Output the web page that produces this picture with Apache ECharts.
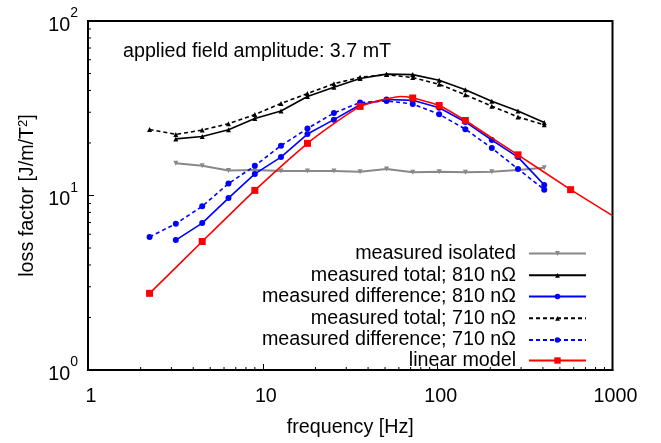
<!DOCTYPE html>
<html>
<head>
<meta charset="utf-8">
<script src="https://cdn.jsdelivr.net/npm/echarts@6/dist/echarts.min.js"></script>
<style>html,body{margin:0;padding:0;background:#fff}#c{width:661px;height:443px}</style>
</head>
<body>
<div id="c"></div>
<script>
// ---- data ----
const fIso = [3.18, 4.5, 6.36, 9, 12.7, 18, 25.5, 36, 51, 72, 102, 144, 204, 288, 407];
const isolated = [15.3, 14.8, 13.9, 14.0, 13.8, 13.8, 13.8, 13.7, 14.2, 13.6, 13.7, 13.6, 13.7, 14.0, 14.4];
const f810 = [3.18, 4.5, 6.36, 9, 12.7, 18, 25.5, 36, 51, 72, 102, 144, 204, 288, 407];
const total810 = [21.1, 21.8, 23.8, 27.6, 30.5, 36.9, 41.7, 46.8, 49.6, 49.3, 45.8, 40.4, 34.7, 30.5, 26.2];
const diff810 = [5.55, 6.95, 9.66, 13.3, 16.6, 22.5, 27.2, 33.1, 35.5, 35.1, 31.8, 26.4, 20.8, 16.6, 11.5];
const f710 = [2.25, 3.18, 4.5, 6.36, 9, 12.7, 18, 25.5, 36, 51, 72, 102, 144, 204, 288, 407];
const total710 = [23.9, 22.4, 23.7, 25.8, 29.1, 33.7, 38.4, 43.7, 47.6, 49.3, 47.4, 43.4, 37.8, 32.5, 28.2, 25.4];
const diff710 = [5.79, 6.89, 8.67, 11.7, 14.8, 19.3, 24.2, 29.7, 34.1, 34.8, 33.5, 29.2, 24.0, 18.7, 14.2, 10.8];
const fModel = [2.25, 4.5, 9, 18, 25.5, 36, 45, 51, 61, 72, 102, 144, 204, 288, 576, 1000];
const model = [2.75, 5.45, 10.7, 19.9, 25.8, 32.4, 34.8, 35.8, 36.9, 36.2, 32.8, 26.9, 21.4, 17.1, 10.8, 7.67];
const modelMarked = [1, 1, 1, 1, 0, 1, 0, 0, 0, 1, 1, 1, 0, 1, 1, 0];
const xMinorTicks = [2,3,4,5,6,7,8,9,20,30,40,50,60,70,80,90,200,300,400,500,600,700,800,900];
const yMinorTicks = [2,3,4,5,6,7,8,9,20,30,40,50,60,70,80,90];
const names = ['measured isolated', 'measured total; 810 nΩ', 'measured difference; 810 nΩ',
               'measured total; 710 nΩ', 'measured difference; 710 nΩ', 'linear model'];
const annotation = 'applied field amplitude: 3.7 mT';

const FONT = '"Liberation Sans", Arial, Helvetica, sans-serif';
const FS = 19.7;
const pairs = (xs, ys) => xs.map((x, i) => [x, ys[i]]);

const chart = echarts.init(document.getElementById('c'), null, {renderer: 'canvas'});

function minorTickSeries(vals, axis) {
  return {
    type: 'custom', silent: true, clip: false, z: 10,
    data: vals.map(v => axis === 'x' ? [v, 1] : [1, v]),
    renderItem: function (params, api) {
      const p = api.coord([api.value(0), api.value(1)]);
      const shape = axis === 'x'
        ? {x1: p[0], y1: p[1], x2: p[0], y2: p[1] - 3}
        : {x1: p[0], y1: p[1], x2: p[0] + 3, y2: p[1]};
      return {type: 'line', shape: shape, style: {stroke: '#000', lineWidth: 1}};
    }
  };
}

const legendRows = [254.5, 276.3, 297.5, 319.3, 341, 361.5];
const legendSymH = [6, 6, 7, 6, 7, 8];
const legends = names.map((n, i) => ({
  data: [n], orient: 'horizontal', align: 'right', right: 74,
  top: legendRows[i] - 11, padding: 0,
  itemWidth: 57, itemHeight: legendSymH[i],
  textStyle: {fontSize: FS, color: '#000', fontFamily: FONT, padding: [0, 8, 0, 0]},
  selectedMode: false
}));

const option = {
  animation: false,
  textStyle: {fontFamily: FONT},
  title: {
    text: annotation, left: 118, top: 37,
    textStyle: {fontSize: FS, fontWeight: 'normal', color: '#000', fontFamily: FONT}
  },
  legend: legends,
  grid: {left: 88, right: 48.5, top: 21, bottom: 68, show: true, borderColor: '#000', borderWidth: 2, backgroundColor: 'transparent'},
  xAxis: {
    type: 'log', logBase: 10, min: 1, max: 1000,
    name: 'frequency [Hz]', nameLocation: 'middle', nameGap: 48,
    nameTextStyle: {fontSize: FS, color: '#000', fontFamily: FONT},
    axisLine: {lineStyle: {color: '#000', width: 2}},
    axisTick: {inside: true, length: 6, lineStyle: {color: '#000', width: 1}},
    axisLabel: {fontSize: FS, color: '#000', margin: 17, padding: [0, 0, 0, 6], fontFamily: FONT,
      formatter: function (v) { return String(Math.round(v)); }},
    splitLine: {show: false}
  },
  yAxis: {
    type: 'log', logBase: 10, min: 1, max: 100,
    name: 'loss factor [J/m/T{s|2}]', nameLocation: 'middle', nameGap: 44,
    nameTextStyle: {fontSize: FS, color: '#000', fontFamily: FONT,
      rich: {s: {fontSize: 13, verticalAlign: 'top', color: '#000', fontFamily: FONT}}},
    axisLine: {lineStyle: {color: '#000', width: 2}},
    axisTick: {inside: true, length: 6, lineStyle: {color: '#000', width: 1}},
    axisLabel: {
      margin: 10, color: '#000',
      formatter: function (v) { return '{b|10}{s|' + Math.round(Math.log10(v)) + '}'; },
      rich: {
        b: {fontSize: FS, color: '#000', fontFamily: FONT, padding: [9, 0, 0, 0]},
        s: {fontSize: 14, color: '#000', fontFamily: FONT, verticalAlign: 'top'}
      }
    },
    splitLine: {show: false}
  },
  series: [
    minorTickSeries(xMinorTicks, 'x'),
    minorTickSeries(yMinorTicks, 'y'),
    {
      name: names[0], type: 'line', data: pairs(fIso, isolated),
      symbol: 'triangle', symbolRotate: 180, symbolSize: 5,
      lineStyle: {color: '#888888', width: 2}, itemStyle: {color: '#888888'}, z: 2
    },
    {
      name: names[1], type: 'line', data: pairs(f810, total810),
      symbol: 'triangle', symbolSize: 5,
      lineStyle: {color: '#000', width: 1.6}, itemStyle: {color: '#000'}, z: 3
    },
    {
      name: names[2], type: 'line', data: pairs(f810, diff810),
      symbol: 'circle', symbolSize: 6,
      lineStyle: {color: '#0000ff', width: 1.6}, itemStyle: {color: '#0000ff'}, z: 4
    },
    {
      name: names[3], type: 'line', data: pairs(f710, total710),
      symbol: 'triangle', symbolSize: 5,
      lineStyle: {color: '#000', width: 1.6, type: [4, 3]}, itemStyle: {color: '#000'}, z: 5
    },
    {
      name: names[4], type: 'line', data: pairs(f710, diff710),
      symbol: 'circle', symbolSize: 6,
      lineStyle: {color: '#0000ff', width: 1.6, type: [4, 3]}, itemStyle: {color: '#0000ff'}, z: 6
    },
    {
      name: names[5], type: 'line', smooth: 0.15,
      data: fModel.map((x, i) => modelMarked[i] ? [x, model[i]] : {value: [x, model[i]], symbol: 'none'}),
      symbol: 'rect', symbolSize: 7, showAllSymbol: true,
      lineStyle: {color: '#ff0000', width: 1.6}, itemStyle: {color: '#ff0000'}, z: 7
    }
  ]
};
chart.setOption(option);
</script>
</body>
</html>
